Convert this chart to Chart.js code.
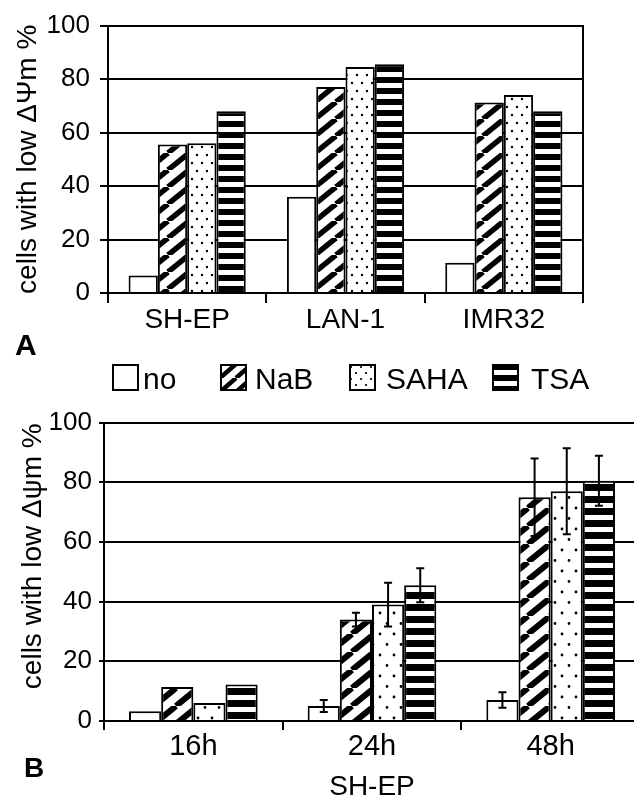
<!DOCTYPE html>
<html>
<head>
<meta charset="utf-8">
<script src="https://cdn.jsdelivr.net/npm/chart.js"></script>
<style>
  html, body { margin: 0; padding: 0; overflow: hidden; background: #fff; }
  body { width: 634px; height: 801px; position: relative; font-family: 'Liberation Sans', Arial, sans-serif; color: #000; }
  #chartA { position: absolute; left: 0; top: 0; }
  #chartB { position: absolute; left: 0; top: 400px; }
  .panel { position: absolute; font-weight: bold; line-height: 1; }
  .legBox { position: absolute; top: 364px; }
  .legText { position: absolute; top: 364px; font-size: 30px; line-height: 30px; }
</style>
</head>
<body>
<canvas id="chartA" width="634" height="345"></canvas>
<canvas id="chartB" width="645" height="405"></canvas>

<div class="panel" style="left:15px; top:330px; font-size:30px;">A</div>
<div class="panel" style="left:24px; top:754px; font-size:28px;">B</div>

<canvas class="legBox" data-kind="no" width="27" height="27" style="left:112px"></canvas>
<div class="legText" style="left:143px">no</div>
<canvas class="legBox" data-kind="nab" width="27" height="27" style="left:220px"></canvas>
<div class="legText" style="left:255px">NaB</div>
<canvas class="legBox" data-kind="saha" width="27" height="27" style="left:349px"></canvas>
<div class="legText" style="left:386px">SAHA</div>
<canvas class="legBox" data-kind="tsa" width="27" height="27" style="left:492px"></canvas>
<div class="legText" style="left:531px">TSA</div>

<script>
// panel A: cell lines
const categoriesA = ['SH-EP', 'LAN-1', 'IMR32'];
const noA   = [6.5, 36, 11.3];
const nabA  = [55.5, 77, 71.2];
const sahaA = [56, 84.5, 74];
const tsaA  = [68, 85.5, 68];

// panel B: SH-EP time course
const categoriesB = ['16h', '24h', '48h'];
const noB   = [3.3, 5, 7];
const nabB  = [11.4, 34, 75];
const sahaB = [6, 39, 77];
const tsaB  = [12.2, 45.5, 80.5];
const noErrB   = [null, 2, 2.6];
const nabErrB  = [null, 2.3, 13];
const sahaErrB = [null, 7.3, 14.4];
const tsaErrB  = [null, 5.7, 8.4];

const yMin = 0, yMax = 100, yStep = 20;

Chart.defaults.font.family = "'Liberation Sans', Arial, sans-serif";
Chart.defaults.color = '#000';

// p: hatch tile w/h + line width, dot tile w/h + radius, stripe period + black part
function makeFills(p) {
    const hatch = document.createElement('canvas');
    hatch.width = p.hw; hatch.height = p.hh;
    let x = hatch.getContext('2d');
    x.fillStyle = '#fff';
    x.fillRect(0, 0, p.hw, p.hh);
    x.strokeStyle = '#000';
    x.lineWidth = p.hl;
    x.beginPath();
    for (let k = -1; k <= 1; k++) {
        x.moveTo(k * p.hw, p.hh);
        x.lineTo(k * p.hw + p.hw, 0);
    }
    x.stroke();

    const dots = document.createElement('canvas');
    dots.width = p.dw; dots.height = p.dh;
    x = dots.getContext('2d');
    x.fillStyle = '#fff';
    x.fillRect(0, 0, p.dw, p.dh);
    x.fillStyle = '#000';
    x.beginPath();
    x.arc(2, 3, p.dr, 0, Math.PI * 2);
    x.arc(2 + p.dw / 2, 3 + p.dh / 2, p.dr, 0, Math.PI * 2);
    x.fill();

    const stripes = document.createElement('canvas');
    stripes.width = 4; stripes.height = p.sp;
    x = stripes.getContext('2d');
    x.fillStyle = '#fff';
    x.fillRect(0, 0, 4, p.sp);
    x.fillStyle = '#000';
    x.fillRect(0, 0, 4, p.sb);

    return {
        no: '#fff',
        nab: x.createPattern(hatch, 'repeat'),
        saha: x.createPattern(dots, 'repeat'),
        tsa: x.createPattern(stripes, 'repeat')
    };
}

const fillsA = makeFills({ hw: 21, hh: 17, hl: 5.5, dw: 10, dh: 16, dr: 1.2, sp: 11, sb: 6 });
const fillsB = makeFills({ hw: 22, hh: 18, hl: 6, dw: 14, dh: 21, dr: 1.4, sp: 12, sb: 7 });
const fillsLeg = makeFills({ hw: 16, hh: 14, hl: 4.5, dw: 10, dh: 12, dr: 1.1, sp: 11, sb: 6 });

// legend boxes
document.querySelectorAll('.legBox').forEach(box => {
    const x = box.getContext('2d');
    x.fillStyle = fillsLeg[box.dataset.kind];
    x.fillRect(0, 0, 27, 27);
    x.strokeStyle = '#000';
    x.lineWidth = 2;
    x.strokeRect(1, 1, 25, 25);
});

// error bars for panel B
const errorBars = {
    id: 'errorBars',
    afterDatasetsDraw(chart) {
        const ctx = chart.ctx;
        const y = chart.scales.y;
        chart.data.datasets.forEach((ds, di) => {
            if (!ds.errors) return;
            chart.getDatasetMeta(di).data.forEach((bar, i) => {
                const e = ds.errors[i];
                if (e == null) return;
                const v = ds.data[i];
                const top = y.getPixelForValue(v + e);
                const bot = y.getPixelForValue(v - e);
                ctx.save();
                ctx.strokeStyle = '#000';
                ctx.lineWidth = 2;
                ctx.beginPath();
                ctx.moveTo(bar.x, top); ctx.lineTo(bar.x, bot);
                ctx.moveTo(bar.x - 4, top); ctx.lineTo(bar.x + 4, top);
                ctx.moveTo(bar.x - 4, bot); ctx.lineTo(bar.x + 4, bot);
                ctx.stroke();
                ctx.restore();
            });
        });
    }
};

function dataset(label, data, fill, errors) {
    return {
        label: label,
        data: data,
        errors: errors,
        backgroundColor: fill,
        borderColor: '#000',
        borderWidth: 2,
        barPercentage: 1
    };
}

const chartA = new Chart(document.getElementById('chartA'), {
    type: 'bar',
    data: {
        labels: categoriesA,
        datasets: [
            dataset('no', noA, fillsA.no),
            dataset('NaB', nabA, fillsA.nab),
            dataset('SAHA', sahaA, fillsA.saha),
            dataset('TSA', tsaA, fillsA.tsa)
        ]
    },
    options: {
        responsive: false,
        animation: false,
        layout: { padding: { top: 15, bottom: 0, left: 0, right: 0 } },
        datasets: { bar: { categoryPercentage: 0.74 } },
        scales: {
            x: {
                grid: { drawOnChartArea: false, color: '#000', lineWidth: 2, tickLength: 10 },
                border: { color: '#000', width: 2 },
                ticks: { font: { size: 28 }, padding: 0 },
                afterFit: s => { s.height = 52; }
            },
            y: {
                min: yMin, max: yMax,
                grid: { color: '#000', lineWidth: 2, tickLength: 8 },
                border: { color: '#000', width: 2 },
                ticks: { stepSize: yStep, font: { size: 26 }, padding: 10 },
                title: { display: true, text: 'cells with low ΔΨm %', font: { size: 28 }, padding: { top: 11, bottom: 0 } },
                afterFit: s => { s.width = 108; }
            },
            y2: {
                position: 'right',
                grid: { display: false },
                ticks: { display: false },
                border: { display: true, color: '#000', width: 2 },
                afterFit: s => { s.width = 51; }
            }
        },
        plugins: {
            legend: { display: false },
            tooltip: { enabled: false }
        }
    }
});

const chartB = new Chart(document.getElementById('chartB'), {
    type: 'bar',
    data: {
        labels: categoriesB,
        datasets: [
            dataset('no', noB, fillsB.no, noErrB),
            dataset('NaB', nabB, fillsB.nab, nabErrB),
            dataset('SAHA', sahaB, fillsB.saha, sahaErrB),
            dataset('TSA', tsaB, fillsB.tsa, tsaErrB)
        ]
    },
    options: {
        responsive: false,
        animation: false,
        layout: { padding: { top: 21, bottom: 0, left: 0, right: 5 } },
        datasets: { bar: { categoryPercentage: 0.72 } },
        scales: {
            x: {
                grid: { drawOnChartArea: false, color: '#000', lineWidth: 2, tickLength: 9 },
                border: { color: '#000', width: 2 },
                ticks: { font: { size: 29 }, padding: 0 },
                title: { display: true, text: 'SH-EP', font: { size: 28 }, padding: { top: 0, bottom: 1 } },
                afterFit: s => { s.height = 84; }
            },
            y: {
                min: yMin, max: yMax,
                grid: { color: '#000', lineWidth: 2, tickLength: 5 },
                border: { color: '#000', width: 2 },
                ticks: { stepSize: yStep, font: { size: 26 }, padding: 7 },
                title: { display: true, text: '\u00a0\u00a0\u00a0\u00a0cells with low Δψm %', font: { size: 28 }, padding: { top: 16, bottom: 0 } },
                afterFit: s => { s.width = 104; }
            }
        },
        plugins: {
            legend: { display: false },
            tooltip: { enabled: false }
        }
    },
    plugins: [errorBars]
});
</script>
</body>
</html>
